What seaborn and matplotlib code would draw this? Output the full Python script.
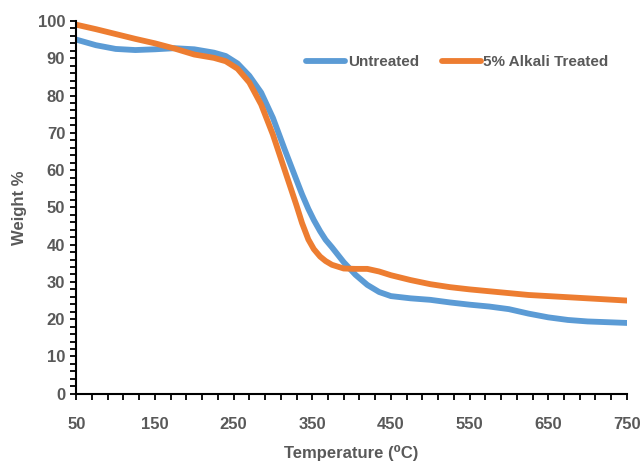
import pandas as pd
import matplotlib.pyplot as plt
import seaborn as sns
from matplotlib.ticker import MultipleLocator

sns.set_style("white")
plt.rcParams["font.family"] = ["Liberation Sans Narrow", "Liberation Sans", "DejaVu Sans"]
plt.rcParams["font.weight"] = "bold"

# TGA data
temperature = [50, 75, 100, 125, 150, 175, 200, 225, 240, 255, 270, 285, 300, 315,
               330, 337, 345, 352, 360, 367, 375, 390, 405, 420, 435, 450, 475, 500,
               525, 550, 575, 600, 625, 650, 675, 700, 725, 750]
untreated = [95.0, 93.5, 92.5, 92.2, 92.4, 92.7, 92.4, 91.5, 90.6, 88.6, 85.3, 80.8,
             74.0, 65.5, 57.3, 53.5, 49.6, 46.6, 43.6, 41.3, 39.3, 35.3, 31.9, 29.2,
             27.3, 26.2, 25.6, 25.2, 24.5, 23.9, 23.4, 22.7, 21.5, 20.5, 19.8, 19.4,
             19.2, 19.0]
alkali = [99.0, 97.8, 96.5, 95.2, 94.0, 92.6, 91.0, 90.1, 89.2, 87.2, 83.5, 77.6,
          69.5, 60.0, 50.5, 45.8, 41.4, 38.8, 36.8, 35.6, 34.6, 33.6, 33.5, 33.5,
          32.8, 31.8, 30.5, 29.4, 28.6, 28.0, 27.5, 27.0, 26.5, 26.2, 25.9, 25.6,
          25.3, 25.0]
series_names = ["Untreated", "5% Alkali Treated"]
colors = ["#5B9BD5", "#ED7D31"]

df = pd.DataFrame({
    "Temperature": temperature * 2,
    "Weight": untreated + alkali,
    "Sample": [series_names[0]] * len(temperature) + [series_names[1]] * len(temperature),
})

fig, ax = plt.subplots(figsize=(6.41, 4.66), dpi=100)
fig.subplots_adjust(left=0.119, right=0.978, top=0.955, bottom=0.155)

sns.lineplot(data=df, x="Temperature", y="Weight", hue="Sample",
             palette=colors, linewidth=4.2, ax=ax, sort=False)
for line in ax.get_lines():
    line.set_solid_joinstyle("round")
    line.set_solid_capstyle("round")

ax.set_xlim(50, 750)
ax.set_ylim(0, 100)
ax.set_xticks(range(50, 751, 100))
ax.xaxis.set_minor_locator(MultipleLocator(20, offset=10))
ax.yaxis.set_major_locator(MultipleLocator(10))
ax.yaxis.set_minor_locator(MultipleLocator(2))

gray = "#595959"
ax.tick_params(axis="both", which="both", direction="out", length=4, width=1.3,
               color="black", labelsize=12, labelcolor=gray,
               bottom=True, left=True)
ax.tick_params(axis="x", which="major", pad=13)
ax.tick_params(axis="y", which="major", pad=4)
for lbl in ax.get_xticklabels() + ax.get_yticklabels():
    lbl.set_fontweight("bold")

for side in ["top", "right"]:
    ax.spines[side].set_visible(False)
for side in ["left", "bottom"]:
    ax.spines[side].set_color("black")
    ax.spines[side].set_linewidth(1.5)

ax.set_xlabel("Temperature (\u2070C)", fontsize=12, fontweight="bold", color=gray, labelpad=9)
ax.set_ylabel("Weight %", fontsize=12, fontweight="bold", color=gray, labelpad=8)

leg = ax.legend(loc="center left", bbox_to_anchor=(0.418, 0.89), ncol=2, frameon=False,
                handlelength=2.55, handletextpad=0.15, columnspacing=1.5,
                borderaxespad=0, borderpad=0,
                prop={"size": 11, "weight": "bold"})
for t in leg.get_texts():
    t.set_color(gray)

plt.savefig("out.png", dpi=100)
